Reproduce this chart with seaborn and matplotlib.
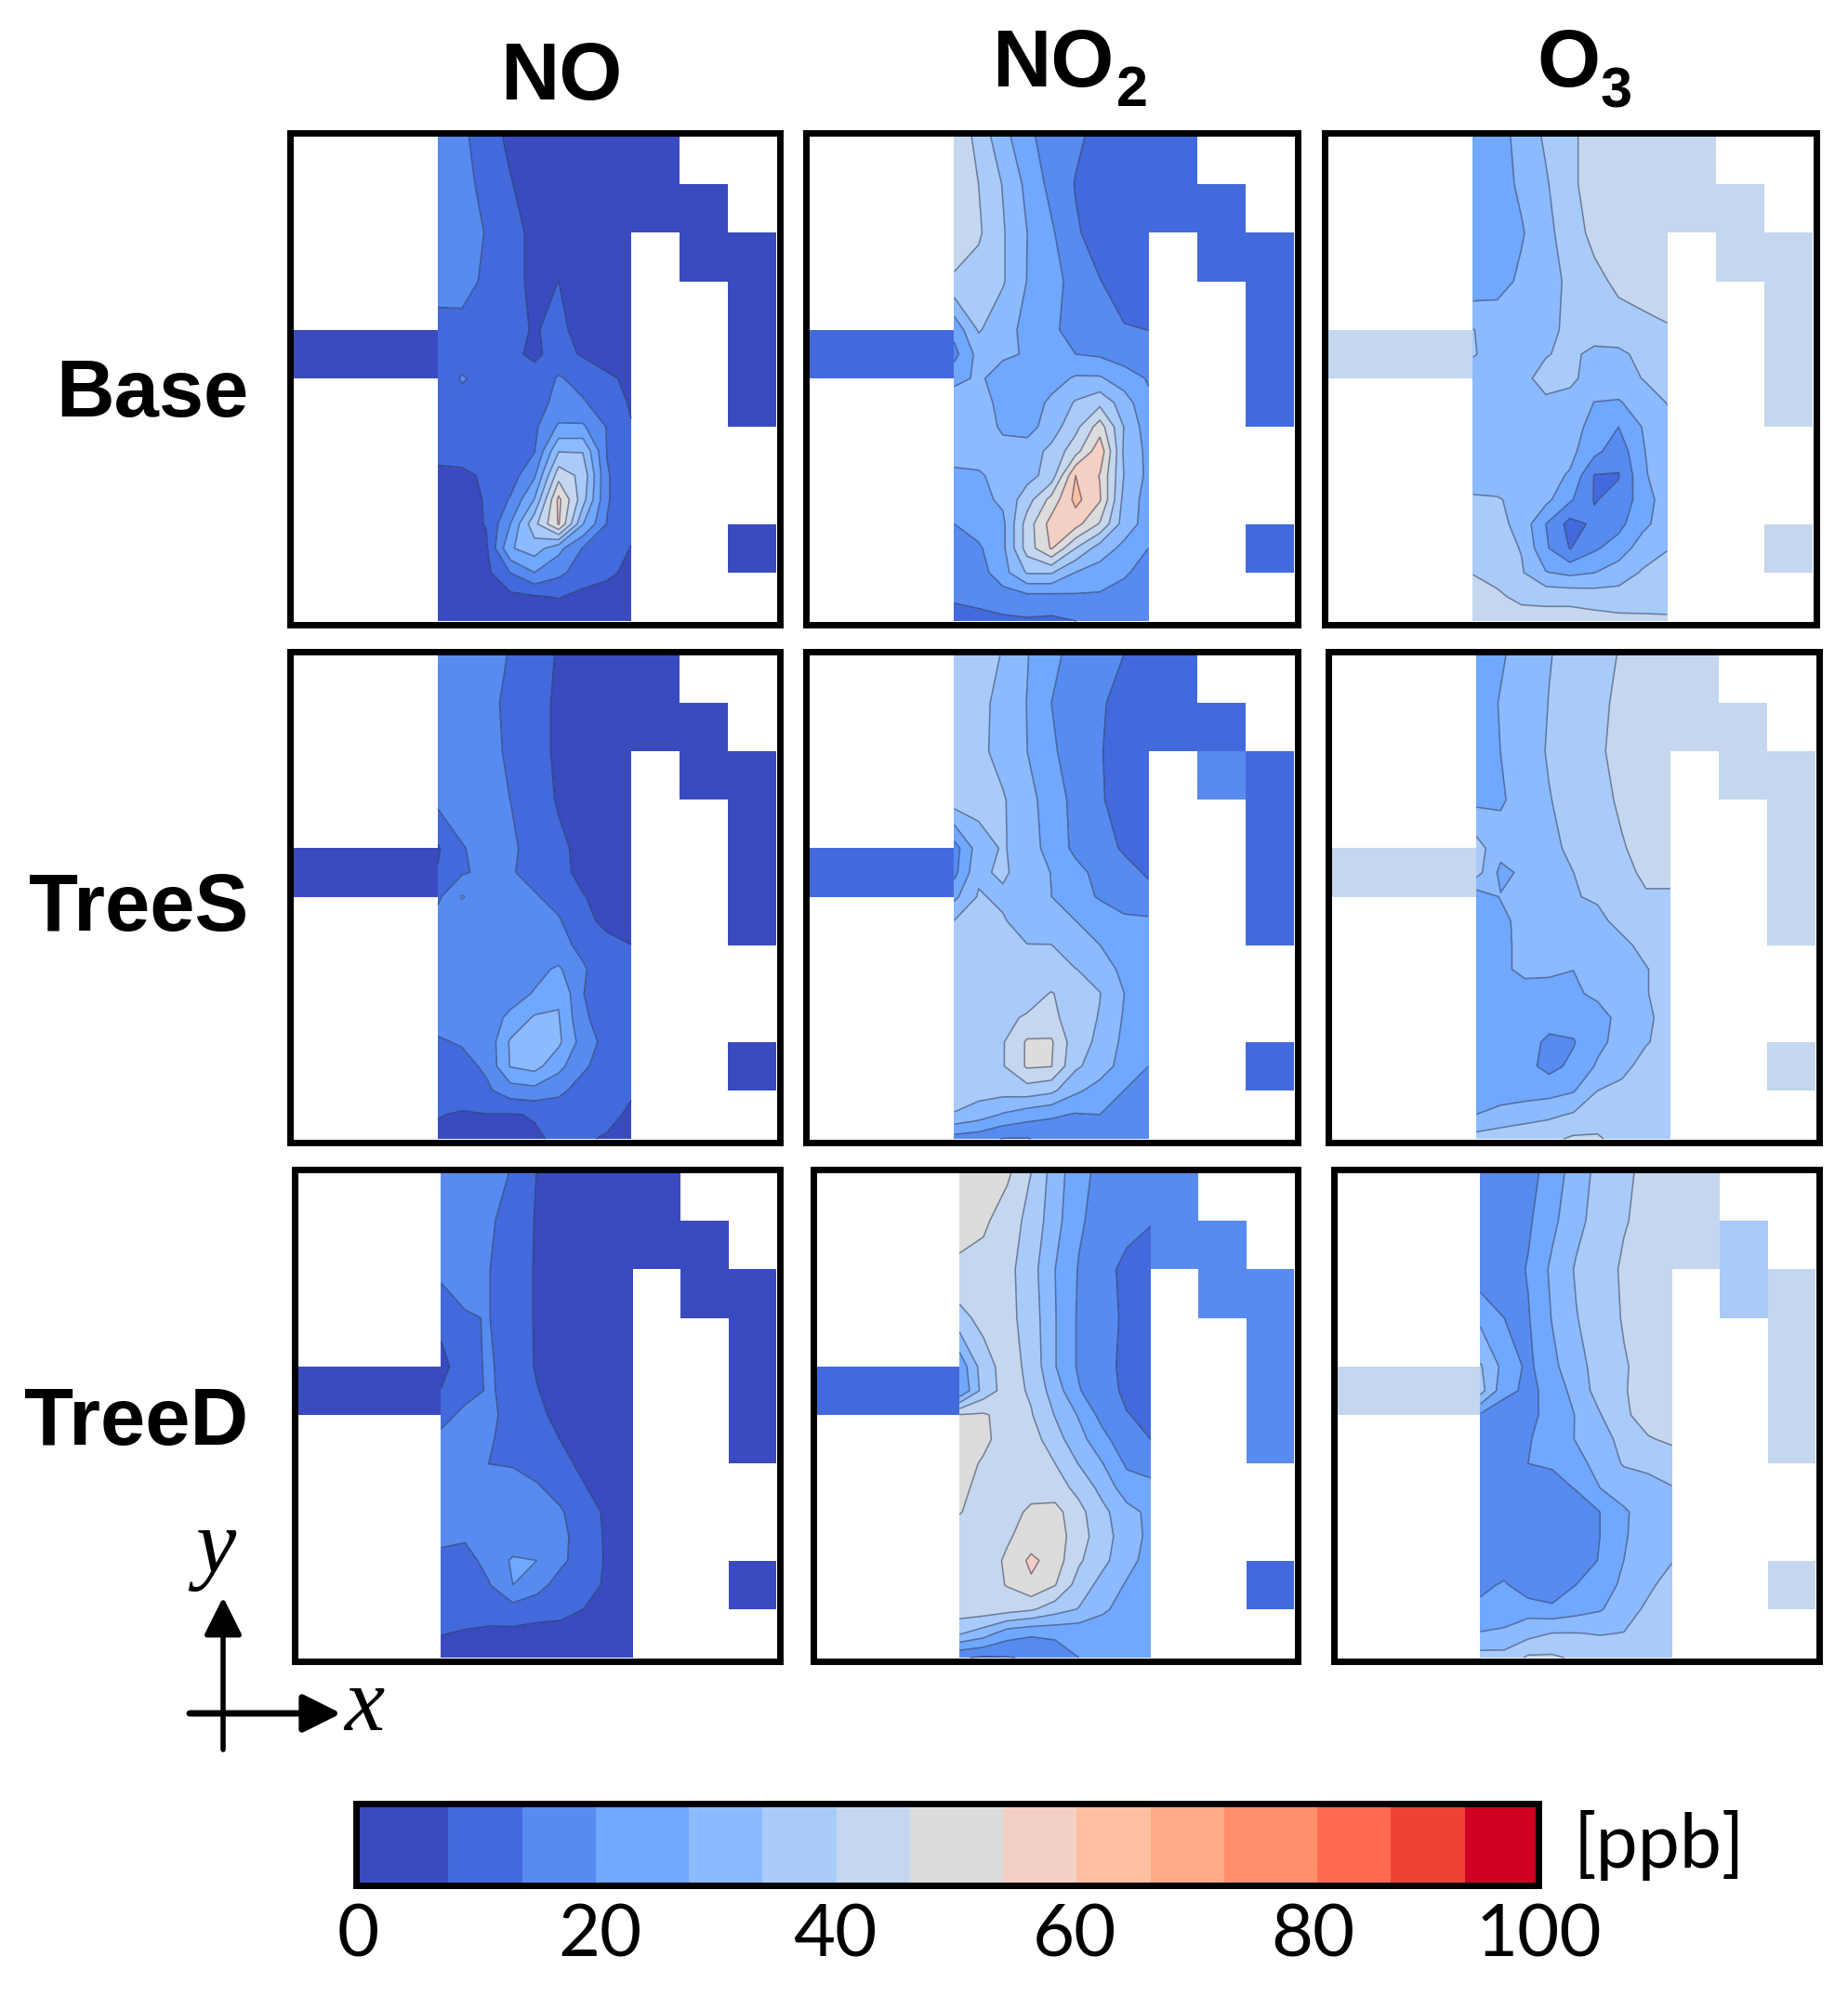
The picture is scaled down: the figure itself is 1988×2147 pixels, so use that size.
import numpy as np
import seaborn as sns
import matplotlib.pyplot as plt
from matplotlib.colors import ListedColormap, BoundaryNorm

# band colours of the scale, 0 to 100 ppb
band_colors = ['#3a4bc0', '#436adc', '#588bef', '#70a7ff', '#8bbafe', '#a8cbfa', '#c4d7ef', '#dcdcdc',
               '#f4cfc3', '#fdbfa2', '#feaa88', '#ff8f6a', '#ff6a50', '#ef4136', '#d00020']
band_limits = np.linspace(0, 100, 16)
cbar_widths = [5, 4, 4, 5, 4, 4, 4, 5, 4, 4, 4, 5, 4, 4, 4]
cbar_ticks = [0, 20, 40, 60, 80, 100]
cbar_tick_pos = [0.002, 0.206, 0.405, 0.608, 0.809, 1.0]

species = ['NO', 'NO', 'O']
species_sub = ['', '2', '3']
scenarios = ['Base', 'TreeS', 'TreeD']

# sample points inside the main street, in grid cells
street_x = [3, 3.5, 4, 4.5, 5, 5.5, 6, 6.5, 7]
street_y = [0, 1, 2, 3, 4, 4.5, 5, 5.5, 6, 6.5, 7, 7.5, 8, 8.5, 9, 9.5, 10]

# side street cells, the rest of the grid is building
side_cells = [(4, 0), (4, 1), (4, 2), (0, 7), (1, 7), (1, 8), (2, 8), (2, 9), (3, 9), (4, 9), (5, 9), (8, 9)]

no_base = [
    [16, 15, 9, 5.5, 3, 2, 2, 2, 2],
    [17, 16, 11, 7, 4, 3, 2, 2, 2],
    [17, 16.5, 13, 9, 5, 3, 2, 2, 2],
    [16, 15, 12.5, 9, 5, 6.7, 2, 2, 2],
    [11, 12, 11, 9, 6, 9, 3, 2, 2],
    [8, 10, 11, 8, 5.5, 9, 6, 3, 2],
    [8, 14, 11, 9, 9, 14, 11, 8, 5],
    [10, 11, 11, 10, 11, 15, 14, 10, 6],
    [10, 10, 10, 10, 12, 21, 21, 13, 7],
    [9, 9, 9, 10, 13, 33, 33, 13, 8],
    [5, 5.5, 7.5, 10, 19, 44, 38, 14, 8],
    [4, 5, 7, 14, 27, 55, 36, 14, 8],
    [4, 4, 7, 20, 38, 54, 27, 13, 8],
    [3, 4, 5.5, 26, 30, 22, 13, 9, 6.5],
    [3, 4, 5, 13.5, 20, 15, 10, 8, 5],
    [3, 3, 3.5, 5, 6, 7, 5, 4, 3],
    [2, 2, 2, 2, 3, 3, 2, 2, 2],
]
no2_base = [
    [46, 37.5, 29, 21.5, 17, 14.5, 11.5, 10, 10],
    [44, 40, 33, 25, 18, 13, 11, 10, 10],
    [44, 41, 34, 26.7, 21, 14, 11, 10, 10],
    [39, 37, 34, 26.5, 22, 18, 13.5, 11, 10],
    [22, 34, 29, 25, 21, 18, 15, 13.7, 13.3],
    [18, 29, 28, 26, 22, 20, 19, 17, 15],
    [24, 28, 23, 22, 24, 27.5, 27.5, 23, 19.5],
    [32, 29, 25, 23, 28, 34, 38, 30, 21],
    [31, 29, 26, 24, 30, 38, 50, 33, 23],
    [30, 29, 28, 30, 35, 44, 58, 32, 25],
    [25, 26, 28.5, 31, 36, 60, 53, 33, 25],
    [24, 24.5, 28, 37, 49, 62, 54, 31, 24],
    [20, 23, 25, 43, 56, 56, 46, 30, 24],
    [17, 19, 25, 43, 54, 40, 30, 25, 20],
    [16, 17, 24, 34, 34, 26.5, 24, 21, 17],
    [14.5, 15.5, 17, 18, 18, 19, 19, 17, 15],
    [10, 11, 12, 12.5, 12, 13.3, 14, 14, 14],
]
o3_base = [
    [21, 24.5, 28.5, 34.5, 39, 42, 43, 43, 43],
    [21, 23.5, 28, 32.5, 39, 42, 43, 43, 43],
    [21, 23, 26, 31.5, 36.5, 42, 43, 43, 43],
    [22, 24, 28, 32, 34, 38, 41.5, 43, 43],
    [33.5, 31, 31, 32.5, 34, 36, 37, 38, 39.5],
    [34, 30, 30.5, 33, 34.5, 32, 32, 35, 38],
    [29, 29.5, 32, 35, 34.5, 31, 31, 33.5, 35.5],
    [29, 29, 30, 32.5, 31.5, 26.5, 26, 30, 33.5],
    [29, 29.5, 30, 30, 30, 24, 20, 27, 32],
    [29, 29, 29.5, 30, 28.5, 22, 16, 26, 33],
    [29, 29, 29.5, 29, 26, 13, 13, 25, 33],
    [34.5, 34, 31, 28.5, 21, 13, 15, 23.5, 30],
    [36, 35.5, 31, 20, 11, 14.5, 18, 25, 30],
    [36.5, 36, 33, 21, 13, 19, 23, 30, 33],
    [39.8, 38, 34, 27, 25, 26.5, 30, 34, 36],
    [42, 41, 38.5, 38, 38, 37, 36, 35.5, 36],
    [44, 43, 43, 43, 43, 42.5, 42, 42, 41.5],
]
no_trees = [
    [16, 16, 15.5, 13, 10, 6, 4, 4, 4],
    [16, 16, 15, 12, 9, 5.5, 4, 4, 4],
    [16, 16, 15, 12.5, 9, 5.5, 4, 4, 4],
    [15, 16, 15, 13.3, 10, 6, 4, 4, 4],
    [6, 13, 15, 14.5, 11, 8, 5, 4, 4],
    [7, 12.5, 15, 14, 11, 8.5, 5, 4, 4],
    [12, 20.5, 16, 15.5, 14, 11, 7, 4.5, 4],
    [16, 16, 16, 16, 15, 14, 8, 5.5, 5],
    [16, 16, 16, 16, 16, 15, 12, 8, 6.7],
    [16, 16, 16, 16.5, 18, 21, 14, 10, 8],
    [16, 16, 16, 17, 20.5, 26, 13.5, 10, 8],
    [16, 16, 16.5, 21.5, 27.5, 27, 14.5, 10, 8],
    [12.5, 14, 15, 27.5, 29, 28, 17, 11, 8],
    [10, 11, 14.5, 27, 29, 22, 14.5, 10, 8],
    [9.5, 10, 12, 17, 18, 15, 10.5, 9, 7.5],
    [7, 6, 6.5, 6.3, 7, 9, 9, 8.5, 5.5],
    [5, 4.5, 4.5, 5, 6, 7.5, 7.5, 6, 5],
]
no2_trees = [
    [36, 36, 33, 27, 21.5, 18, 15.5, 13.3, 12],
    [37, 35, 31.5, 26.5, 20, 16.5, 14, 11.5, 11],
    [37, 35, 31, 26.7, 21, 17, 13.6, 11.5, 11],
    [37, 36, 34, 29, 23.5, 18, 13.8, 11.5, 11],
    [17, 30, 34, 30, 24, 18.5, 16, 12.5, 11],
    [18, 32, 34.5, 30, 26.5, 22, 18, 15.5, 12.5],
    [25, 34, 32, 28.5, 26.7, 22, 19.5, 17.5, 15.5],
    [33.5, 35, 34, 30, 28, 26.7, 23, 21, 21],
    [36, 36, 34, 33.5, 33.5, 28, 26.7, 22, 21],
    [36, 36, 36, 36, 34, 33.5, 31, 24.5, 22],
    [36, 36, 36, 36, 40.5, 36, 33.5, 26.7, 22],
    [36, 36, 38, 41, 42, 36, 33, 26, 22],
    [36, 36, 39.5, 47.5, 47.5, 36, 32, 25, 22],
    [36, 36, 39.5, 47.5, 46.9, 34.5, 30, 24, 20],
    [36, 36, 36, 37, 35, 28, 24, 20, 16],
    [33, 30, 26, 23, 21, 19.5, 20, 18, 15],
    [17, 16, 13, 13, 15, 16, 16, 16, 15],
]
o3_trees = [
    [25, 26, 29, 33, 35.5, 38, 40.5, 43, 43],
    [24, 27, 30, 33.5, 35.5, 38.5, 41.5, 43, 43],
    [24, 26.7, 30, 34, 36, 39, 42, 43, 43],
    [25, 26, 29, 33, 36, 38, 41, 43, 43],
    [36, 29, 29, 32, 34.5, 37, 39.5, 42, 43],
    [36, 25, 28, 31, 33.3, 36, 38.5, 41, 41],
    [23, 27, 30, 31, 33, 34, 37, 39.5, 39.5],
    [23, 25, 29, 30, 31, 32, 35, 37, 37],
    [23, 25.5, 28, 29, 30, 30.5, 32, 35, 37],
    [23, 25.5, 28, 27.5, 26.7, 29, 31, 33, 36],
    [23, 23.5, 24.5, 25, 26, 27.5, 29.5, 33, 36],
    [22, 22, 22, 22, 23, 25, 28, 32.5, 35],
    [22, 22, 22, 19, 19.5, 25, 29, 33, 35],
    [23, 22.5, 22, 18, 21.5, 27.5, 32, 35, 36],
    [24, 23, 23.5, 24, 26, 33.3, 34.5, 36, 36],
    [26.7, 29, 30.5, 32, 34, 36, 36, 36, 36],
    [36, 37, 38, 38.5, 41, 41, 37, 37, 37],
]
no_treed = [
    [16, 16, 15, 13, 6.5, 4, 3, 3, 3],
    [16, 16, 14, 11.5, 6, 3.5, 3, 3, 3],
    [15, 15, 13.5, 10, 6, 3.5, 3, 3, 3],
    [9, 13, 13.5, 10, 6, 3.5, 3, 3, 3],
    [4, 11.5, 14, 11, 6, 3.5, 3, 3, 3],
    [7, 11, 14, 11.5, 7, 3.5, 3, 3, 3],
    [11, 15, 14.5, 11.5, 8, 5, 3, 3, 3],
    [15, 15, 14, 11, 9.5, 6.5, 3.5, 3, 3],
    [15, 15, 13.3, 13, 11, 8.5, 5, 3, 3],
    [15, 15, 15, 15, 14, 11, 7, 3.5, 3],
    [15, 15, 15, 15, 15, 14, 9, 5.5, 3],
    [14.5, 14, 15, 15, 16, 15, 10, 5.5, 3],
    [12, 11.5, 15, 21, 20, 14.5, 10.5, 5.5, 3],
    [11, 11, 13, 20, 15.5, 11, 9, 5.5, 3],
    [10, 10, 10.5, 11, 10, 9, 6.5, 4, 3],
    [7, 6, 5, 5, 4, 4, 3, 3, 3],
    [3, 3, 3, 3, 3, 3, 3, 3, 3],
]
no2_treed = [
    [50, 50, 48, 40, 30, 22, 18, 16, 14],
    [50, 48, 43, 38, 29, 21, 17, 15, 13.5],
    [45, 44, 42, 36, 26.7, 19.5, 15, 12, 12],
    [38, 42, 42, 37, 27, 19, 15, 12.5, 12],
    [22, 37, 43, 38, 27, 19, 15, 12, 12],
    [20, 36, 43, 39, 30, 20.5, 15, 12.5, 12],
    [47, 47.5, 44, 40.5, 33, 26, 17.5, 13.5, 12.5],
    [50, 48, 44, 43, 36, 29, 22, 15.5, 13.3],
    [49, 46, 44, 44, 40, 33, 26.7, 19, 17],
    [48, 45, 44, 44, 43, 38, 31, 23, 22],
    [47, 44, 44, 48, 49, 42, 35, 29, 25],
    [44, 44, 46, 49, 50, 43, 36, 30, 25],
    [44, 44, 47.5, 55, 50, 41, 35, 29, 24],
    [44, 44, 47, 52, 47, 37, 31, 26, 23],
    [44, 44, 43, 41, 36.5, 33, 28, 23.5, 21],
    [34, 30, 23, 21, 21.5, 22, 22, 21, 21],
    [14, 12.5, 13, 14, 16, 20, 21, 21, 21],
]
o3_treed = [
    [14, 15, 17.5, 23, 30, 35.5, 38.5, 42, 43],
    [15, 15, 19, 25, 31.5, 36, 39.5, 42, 43],
    [15.5, 16.5, 20.5, 28, 34, 37, 41, 43, 43],
    [25, 20, 19.5, 27, 33, 37, 40.5, 43, 43],
    [34, 24.5, 18.5, 25, 31, 36, 39.5, 42, 43],
    [36, 22, 18.5, 22, 29.5, 36, 39.5, 43, 43],
    [19, 16, 18.5, 22, 27, 33, 39, 42.5, 43],
    [15, 15, 19.5, 23, 27, 30, 36, 39.5, 41],
    [15, 15, 20, 21, 24.5, 29, 34, 35, 37],
    [15, 15, 15, 17, 20.5, 26.7, 29, 31, 33],
    [15, 15, 15, 15, 16, 20, 26, 29, 31],
    [15, 15, 15, 15, 16, 20, 26, 30, 31],
    [17, 15.5, 15, 14, 16, 20.5, 26.7, 31, 33],
    [18, 21, 15, 13.5, 20, 23.5, 28, 32, 36],
    [22, 24, 24, 22, 24, 26, 30.5, 34.5, 37],
    [27, 27.5, 31, 33.5, 33.5, 33, 33.5, 37, 38],
    [36, 36, 41, 41, 39, 37, 38, 38, 38],
]

# side street values, same order as side_cells
side_no_base = [3, 3, 3, 3, 3, 3, 3, 3, 3, 3, 3, 3]
side_no2_base = [10, 10, 10, 10, 10, 10, 10, 10, 10, 10, 10, 10]
side_o3_base = [43, 43, 43, 43, 43, 43, 43, 43, 43, 43, 43, 43]
side_no_trees = [3, 3, 3, 3, 3, 3, 3, 3, 3, 3, 3, 3]
side_no2_trees = [10, 10, 10, 10, 10, 10, 16, 10, 10, 10, 10, 10]
side_o3_trees = [43, 43, 43, 43, 43, 43, 43, 43, 43, 43, 43, 43]
side_no_treed = [3, 3, 3, 3, 3, 3, 3, 3, 3, 3, 3, 3]
side_no2_treed = [10, 10, 10, 16, 16, 16, 16, 16, 16, 16, 16, 10]
side_o3_treed = [43, 43, 43, 43, 43, 36, 36, 43, 43, 43, 43, 43]

panels = [
    [(no_base, side_no_base), (no2_base, side_no2_base), (o3_base, side_o3_base)],
    [(no_trees, side_no_trees), (no2_trees, side_no2_trees), (o3_trees, side_o3_trees)],
    [(no_treed, side_no_treed), (no2_treed, side_no2_treed), (o3_treed, side_o3_treed)],
]
# inner box of every panel in pixels, left right top bottom
boxes = [
    [(315, 835, 146, 668), (870, 1392, 146, 668), (1428, 1950, 146, 668)],
    [(315, 835, 704, 1225), (870, 1392, 704, 1225), (1432, 1953, 704, 1225)],
    [(320, 835, 1261, 1783), (878, 1392, 1261, 1783), (1438, 1953, 1261, 1783)],
]
W, H = 1988, 2147

sns.set_theme(style='white')
plt.rcParams['font.family'] = ['Liberation Sans', 'DejaVu Sans']
plt.rcParams['text.color'] = 'black'
plt.rcParams['xtick.labelcolor'] = 'black'

palette = sns.color_palette(band_colors)
cmap = ListedColormap(palette)
norm = BoundaryNorm(band_limits, cmap.N)


def px_axes(fig, left, right, top, bottom):
    return fig.add_axes([left / W, 1 - bottom / H, (right - left) / W, (bottom - top) / H])


def frame(ax, width=5):
    for s in ax.spines.values():
        s.set_visible(True)
        s.set_color('black')
        s.set_linewidth(width)


fig = plt.figure(figsize=(W / 100, H / 100), dpi=100)

for row in range(3):
    for col in range(3):
        street, side = panels[row][col]
        left, right, top, bottom = boxes[row][col]
        ax = px_axes(fig, left - 3.5, right + 3.5, top - 3.5, bottom + 3.5)
        grid = np.full((10, 10), np.nan)
        for (r, c), v in zip(side_cells, side):
            grid[r, c] = v
        sns.heatmap(grid, ax=ax, cmap=cmap, norm=norm, cbar=False, mask=np.isnan(grid),
                    xticklabels=False, yticklabels=False)
        z = np.array(street, dtype=float)
        ax.contourf(street_x, street_y, z, levels=band_limits, colors=palette)
        ax.contour(street_x, street_y, z, levels=band_limits[1:-1], colors='#27304f',
                   linewidths=1.1, alpha=0.55)
        ax.set_xlim(-3.5 / ((right - left) / 10), 10 + 3.5 / ((right - left) / 10))
        ax.set_ylim(10 + 3.5 / ((bottom - top) / 10), -3.5 / ((bottom - top) / 10))
        frame(ax)

# colour scale
cax = px_axes(fig, 383, 1655, 1940, 2028)
strip = np.repeat((band_limits[:-1] + band_limits[1:]) / 2, cbar_widths).reshape(1, -1)
sns.heatmap(strip, ax=cax, cmap=cmap, norm=norm, cbar=False, yticklabels=False)
cax.set_xticks(np.array(cbar_tick_pos) * strip.shape[1])
cax.set_xticklabels(cbar_ticks, rotation=0, fontsize=56, family='Lato')
cax.tick_params(axis='x', length=0, pad=14)
frame(cax)

# overlay in pixel units for the labels and the arrows
over = fig.add_axes([0, 0, 1, 1], facecolor='none')
over.set_xlim(0, W)
over.set_ylim(H, 0)
over.axis('off')

title_x = [604, 1133, 1687]
title_y = [107, 93, 93]
sub_x = [0, 1201, 1722]
sub_y = [0, 114, 116]
for x, y, name, sx, sy, sub in zip(title_x, title_y, species, sub_x, sub_y, species_sub):
    over.text(x, y, name, fontsize=63, fontweight='bold', ha='center', va='baseline')
    if sub:
        over.text(sx, sy, sub, fontsize=44, fontweight='bold', ha='left', va='baseline')

label_y = [448, 1001, 1554]
for y, name in zip(label_y, scenarios):
    over.text(267, y, name, fontsize=62.5, fontweight='bold', ha='right', va='baseline')

over.text(1693, 1985, '[ppb]', fontsize=58, family='Lato', ha='left', va='center')

over.annotate('', xy=(240, 1718), xytext=(240, 1882),
              arrowprops=dict(arrowstyle='-|>', color='black', lw=4, mutation_scale=62, shrinkA=0, shrinkB=0))
over.annotate('', xy=(367, 1843), xytext=(204, 1843),
              arrowprops=dict(arrowstyle='-|>', color='black', lw=5, mutation_scale=62, shrinkA=0, shrinkB=0))
over.text(232, 1668, 'y', fontsize=70, family='Liberation Serif', style='italic', ha='center', va='center')
over.text(392, 1838, 'x', fontsize=70, family='Liberation Serif', style='italic', ha='center', va='center')

fig.savefig('out.png', dpi=100)
